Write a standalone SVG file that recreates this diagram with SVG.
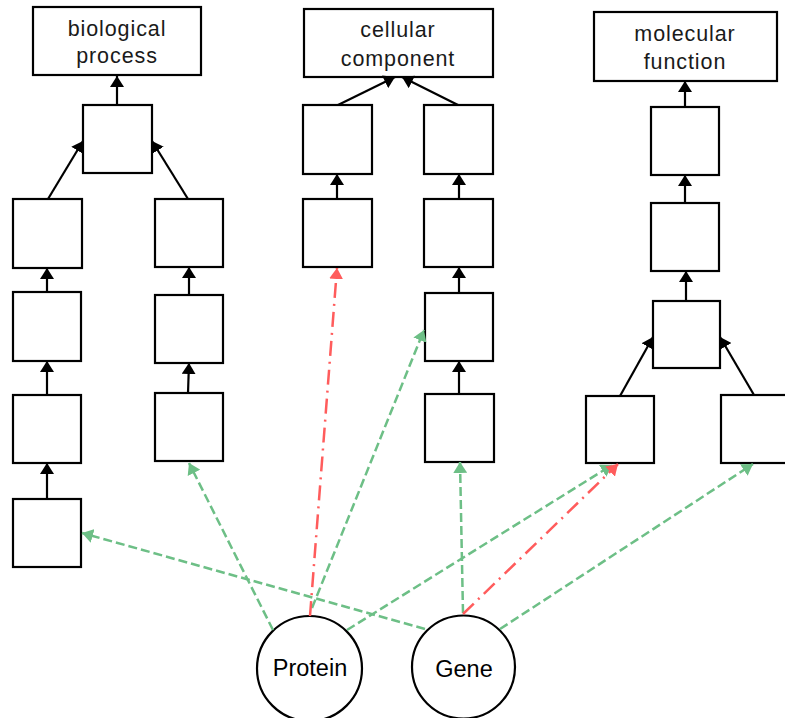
<svg xmlns="http://www.w3.org/2000/svg" width="785" height="718" viewBox="0 0 785 718">
  <style>
    .box { fill: #ffffff; stroke: #000000; stroke-width: 2.2; }
    .circ { fill: #ffffff; stroke: #000000; stroke-width: 2.2; }
    .title { font-family: "Liberation Sans", Arial, sans-serif; font-size: 21.5px; letter-spacing: 0.9px; fill: #1a1a1a; text-anchor: middle; }
    .label { font-family: "Liberation Sans", Arial, sans-serif; font-size: 23.5px; fill: #000000; text-anchor: middle; }
    .isa { stroke: #000000; stroke-width: 2.2; fill: none; marker-end: url(#arrowBlack); }
    .annot { stroke: #6dbf86; stroke-width: 2.5; fill: none; stroke-dasharray: 9 4; marker-end: url(#arrowGreen); }
    .infer { stroke: #ff5c5c; stroke-width: 2.5; fill: none; stroke-dasharray: 15 6 2 6; marker-end: url(#arrowRed); }
  </style>
  <defs>
    <marker id="arrowBlack" viewBox="0 0 11 14" markerWidth="11" markerHeight="14" refX="11" refY="7" orient="auto" markerUnits="userSpaceOnUse">
      <path d="M0,0 L11,7 L0,14 z" fill="#000000"/>
    </marker>
    <marker id="arrowGreen" viewBox="0 0 11 14" markerWidth="11" markerHeight="14" refX="11" refY="7" orient="auto" markerUnits="userSpaceOnUse">
      <path d="M0,0 L11,7 L0,14 z" fill="#6dbf86"/>
    </marker>
    <marker id="arrowRed" viewBox="0 0 11 14" markerWidth="11" markerHeight="14" refX="11" refY="7" orient="auto" markerUnits="userSpaceOnUse">
      <path d="M0,0 L11,7 L0,14 z" fill="#ff5c5c"/>
    </marker>
  </defs>

  <!-- biological process branch -->
  <g id="bp-root">
    <rect class="box" x="33" y="7" width="168" height="68"/>
    <text class="title" x="117" y="36">biological</text>
    <text class="title" x="117" y="63">process</text>
  </g>
  <g id="bp-1"><rect class="box" x="83" y="105" width="69" height="68"/></g>
  <g id="bp-l1"><rect class="box" x="13" y="199" width="69" height="69"/></g>
  <g id="bp-l2"><rect class="box" x="13" y="292" width="68" height="69"/></g>
  <g id="bp-l3"><rect class="box" x="13" y="395" width="68" height="68"/></g>
  <g id="bp-l4"><rect class="box" x="13" y="499" width="68" height="68"/></g>
  <g id="bp-r1"><rect class="box" x="155" y="199" width="68" height="68"/></g>
  <g id="bp-r2"><rect class="box" x="155" y="295" width="68" height="68"/></g>
  <g id="bp-r3"><rect class="box" x="155" y="393" width="68" height="68"/></g>

  <!-- cellular component branch -->
  <g id="cc-root">
    <rect class="box" x="304" y="9" width="189" height="68"/>
    <text class="title" x="398" y="37">cellular</text>
    <text class="title" x="398" y="66">component</text>
  </g>
  <g id="cc-l1"><rect class="box" x="303" y="105" width="69" height="69"/></g>
  <g id="cc-l2"><rect class="box" x="303" y="199" width="69" height="68"/></g>
  <g id="cc-r1"><rect class="box" x="424" y="105" width="69" height="69"/></g>
  <g id="cc-r2"><rect class="box" x="424" y="199" width="69" height="68"/></g>
  <g id="cc-r3"><rect class="box" x="425" y="293" width="68" height="68"/></g>
  <g id="cc-r4"><rect class="box" x="425" y="394" width="69" height="68"/></g>

  <!-- molecular function branch -->
  <g id="mf-root">
    <rect class="box" x="594" y="12" width="183" height="69"/>
    <text class="title" x="685" y="41">molecular</text>
    <text class="title" x="685" y="69">function</text>
  </g>
  <g id="mf-1"><rect class="box" x="651" y="107" width="68" height="68"/></g>
  <g id="mf-2"><rect class="box" x="651" y="203" width="68" height="68"/></g>
  <g id="mf-3"><rect class="box" x="653" y="301" width="67" height="67"/></g>
  <g id="mf-l"><rect class="box" x="586" y="396" width="68" height="67"/></g>
  <g id="mf-r"><rect class="box" x="721" y="395" width="68" height="68"/></g>

  <!-- entities -->
  <g id="protein">
    <circle class="circ" cx="309.5" cy="668.5" r="52.5"/>
    <text class="label" x="310" y="676">Protein</text>
  </g>
  <g id="gene">
    <circle class="circ" cx="463.5" cy="667" r="51.5"/>
    <text class="label" x="464" y="677">Gene</text>
  </g>

  <g id="connectors">
    <!-- is-a links, biological process -->
    <line class="isa" x1="117" y1="105" x2="117" y2="76"/>
    <line class="isa" x1="48" y1="199" x2="83" y2="141"/>
    <line class="isa" x1="188" y1="199" x2="152" y2="141"/>
    <line class="isa" x1="47" y1="292" x2="47" y2="268"/>
    <line class="isa" x1="47" y1="395" x2="47" y2="361"/>
    <line class="isa" x1="47" y1="499" x2="47" y2="463"/>
    <line class="isa" x1="189" y1="295" x2="189" y2="267"/>
    <line class="isa" x1="188" y1="393" x2="189" y2="363"/>
    <!-- is-a links, cellular component -->
    <line class="isa" x1="338" y1="105" x2="395" y2="77"/>
    <line class="isa" x1="458" y1="105" x2="402" y2="77"/>
    <line class="isa" x1="337" y1="199" x2="337" y2="174"/>
    <line class="isa" x1="459" y1="199" x2="459" y2="174"/>
    <line class="isa" x1="459" y1="293" x2="459" y2="267"/>
    <line class="isa" x1="459" y1="394" x2="459" y2="361"/>
    <!-- is-a links, molecular function -->
    <line class="isa" x1="685" y1="107" x2="685" y2="81"/>
    <line class="isa" x1="685" y1="203" x2="685" y2="175"/>
    <line class="isa" x1="686" y1="301" x2="686" y2="271"/>
    <line class="isa" x1="620" y1="396" x2="653" y2="337"/>
    <line class="isa" x1="754" y1="395" x2="720" y2="337"/>
    <!-- annotations -->
    <line class="annot" x1="425" y1="629" x2="82" y2="533"/>
    <line class="annot" x1="273" y1="630" x2="189" y2="463"/>
    <line class="annot" x1="312" y1="608" x2="424" y2="330"/>
    <line class="annot" x1="347" y1="630" x2="612" y2="465"/>
    <line class="annot" x1="463" y1="613" x2="460" y2="462"/>
    <line class="annot" x1="500" y1="629" x2="753" y2="464"/>
    <!-- inferred annotations -->
    <line class="infer" x1="310" y1="616" x2="337" y2="268"/>
    <line class="infer" x1="463" y1="614" x2="618" y2="464"/>
  </g>
</svg>
